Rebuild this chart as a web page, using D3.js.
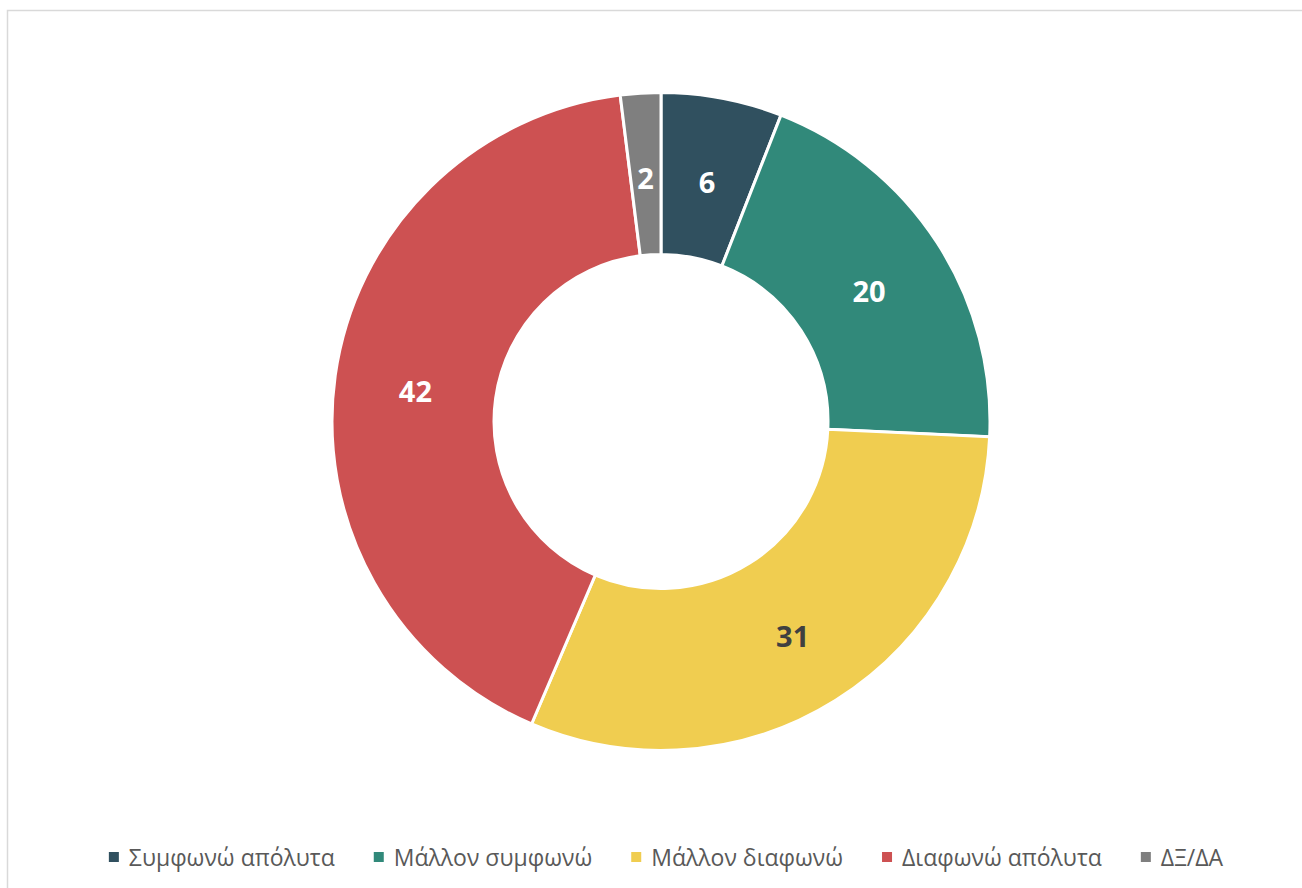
<!DOCTYPE html>
<html>
<head>
<meta charset="utf-8">
<script src="https://cdn.jsdelivr.net/npm/d3@7"></script>
<style>
  html, body { margin: 0; padding: 0; background: #fff; }
  svg { display: block; }
</style>
</head>
<body>
<svg id="chart" width="1302" height="888"></svg>
<script>
const categories = ["Συμφωνώ απόλυτα", "Μάλλον συμφωνώ", "Μάλλον διαφωνώ", "Διαφωνώ απόλυτα", "ΔΞ/ΔΑ"];
const values = [6, 20, 31, 42, 2];
const colors = ["#30505F", "#31897A", "#F0CD50", "#CD5152", "#7F7F7F"];
const labelColors = ["#FFFFFF", "#FFFFFF", "#404040", "#FFFFFF", "#FFFFFF"];

const svg = d3.select("#chart");

svg.append("rect")
  .attr("x", 7.5).attr("y", 10.5)
  .attr("width", 1310).attr("height", 900)
  .attr("fill", "#fff").attr("stroke", "#D9D9D9").attr("stroke-width", 1.5);

const cx = 661, cy = 421.5;
const outerR = 329, innerR = 167;

const data = categories.map((c, i) => ({ name: c, value: values[i], color: colors[i], lc: labelColors[i] }));
const pie = d3.pie().sort(null).value(d => d.value).startAngle(0).endAngle(2 * Math.PI);
const arc = d3.arc().innerRadius(innerR).outerRadius(outerR);
const labelArc = d3.arc().innerRadius(248).outerRadius(248);

const g = svg.append("g").attr("transform", `translate(${cx},${cy})`);
const arcs = pie(data);

g.selectAll("path.slice").data(arcs).enter().append("path")
  .attr("class", "slice")
  .attr("d", arc)
  .attr("fill", d => d.data.color)
  .attr("stroke", "#fff")
  .attr("stroke-width", 3)
  .attr("stroke-linejoin", "miter");

g.selectAll("text.lbl").data(arcs).enter().append("text")
  .attr("class", "lbl")
  .attr("x", d => labelArc.centroid(d)[0])
  .attr("y", d => labelArc.centroid(d)[1] + 4)
  .attr("text-anchor", "middle")
  .attr("dominant-baseline", "central")
  .attr("font-family", "'Open Sans', 'Noto Sans', sans-serif")
  .attr("font-weight", "bold")
  .attr("font-size", 29)
  .attr("fill", d => d.data.lc)
  .text(d => d.data.value);

// Legend
const legend = svg.append("g");
const items = legend.selectAll("g.item").data(data).enter().append("g").attr("class", "item");
items.append("rect")
  .attr("width", 10).attr("height", 10)
  .attr("y", -5)
  .attr("fill", d => d.color);
items.append("text")
  .attr("x", 20)
  .attr("y", 0)
  .attr("dominant-baseline", "central")
  .attr("font-family", "'Open Sans', 'Noto Sans', sans-serif")
  .attr("font-size", 23)
  .attr("fill", "#595959")
  .text(d => d.name);

let xPos = 0;
const gap = 39;
items.each(function () {
  const t = d3.select(this).select("text").node().getComputedTextLength();
  d3.select(this).attr("transform", `translate(${xPos},0)`);
  xPos += 20 + t + gap;
});
const total = xPos - gap;
legend.attr("transform", `translate(${666 - total / 2},857)`);
</script>
</body>
</html>
